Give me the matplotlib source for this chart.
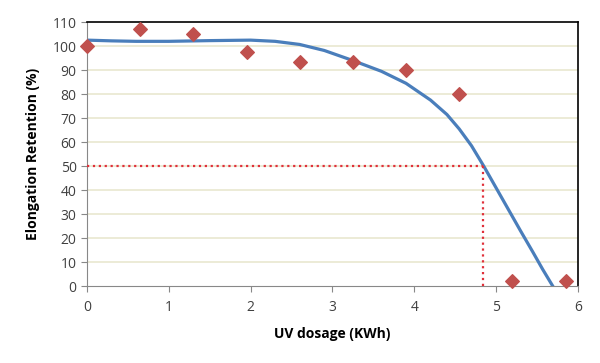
import matplotlib.pyplot as plt

# measured points
dose = [0, 0.65, 1.3, 1.95, 2.6, 3.25, 3.9, 4.55, 5.2, 5.85]
retention = [100, 107, 105, 97.5, 93.5, 93.5, 90, 80, 2, 2]

# trend line
trend_x = [0, 0.3, 0.6, 1.0, 1.5, 2.0, 2.3, 2.6, 2.9, 3.25, 3.6, 3.9, 4.2, 4.4,
           4.55, 4.7, 4.85, 5.0, 5.15, 5.3, 5.45, 5.57, 5.72]
trend_y = [102.5, 102.2, 102, 102, 102.3, 102.5, 102, 100.7, 98.2, 94, 89.5, 84.5, 77.5, 71.5,
           65.5, 58.5, 50, 41, 32, 23, 14.2, 7, -1.5]

half_life = 4.84

plt.rcParams['font.family'] = ['Open Sans', 'DejaVu Sans']

fig = plt.figure(figsize=(6, 3.63), dpi=100)
ax = fig.add_axes([0.145, 0.212, 0.818, 0.727])

for y in range(10, 110, 10):
    ax.axhline(y, color="#e9e8cf", lw=1.2, zorder=0)

ax.plot(trend_x, trend_y, color="#4a7ebb", lw=2.3, zorder=2)
ax.plot([0, half_life], [50, 50], color="#e0303a", ls=":", lw=1.6, zorder=3)
ax.plot([half_life, half_life], [0, 50], color="#e0303a", ls=":", lw=1.6, zorder=3)
ax.scatter(dose, retention, marker="D", s=48, color="#c0504d", zorder=4, clip_on=False)

ax.set_xlim(0, 6)
ax.set_ylim(0, 110)
ax.set_xticks(range(0, 7))
ax.set_yticks(range(0, 111, 10))
ax.tick_params(labelsize=10, colors="#404040", length=4, color="#888888")
ax.tick_params(axis="x", pad=6)

for side in ["left", "bottom"]:
    ax.spines[side].set_color("#888888")
for side in ["top", "right"]:
    ax.spines[side].set_color("black")
    ax.spines[side].set_linewidth(1.2)

ax.set_xlabel("UV dosage (KWh)", fontsize=10, fontweight="bold", labelpad=9)
ax.set_ylabel("Elongation Retention (%)", fontsize=10, fontweight="bold", labelpad=9)

fig.savefig("out.png")
